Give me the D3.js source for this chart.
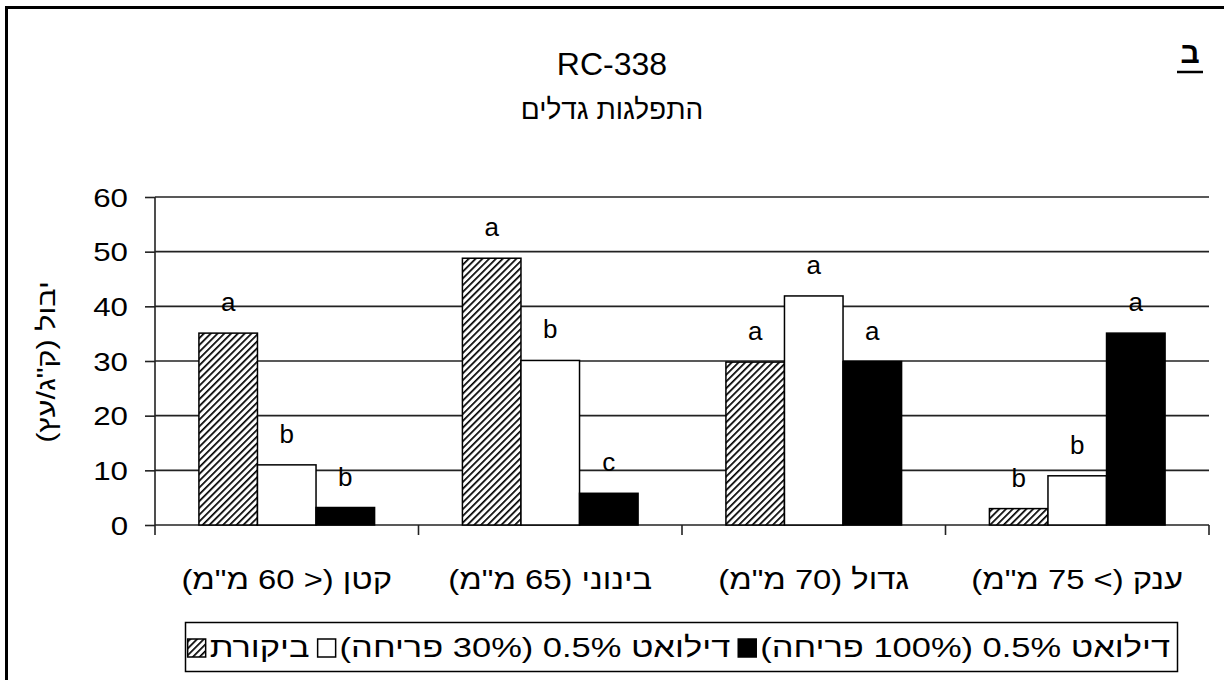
<!DOCTYPE html>
<html><head><meta charset="utf-8">
<script src="https://cdn.jsdelivr.net/npm/d3@7"></script>
<style>body{margin:0;background:#fff}svg{display:block;font-family:"Liberation Sans",Arial,sans-serif}</style>
</head><body><svg id="c" width="1224" height="680"></svg>
<script>
const categories = ['קטן (< 60 מ"מ)', 'בינוני (65 מ"מ)', 'גדול (70 מ"מ)', 'ענק (> 75 מ"מ)'];
const seriesNames = ['ביקורת', 'דילואט 0.5% (30% פריחה)', 'דילואט 0.5% (100% פריחה)'];
const controlValues = [35.1, 48.8, 29.8, 3.0];
const dil30Values = [11.0, 30.1, 41.9, 9.0];
const dil100Values = [3.2, 5.8, 29.9, 35.1];
const controlLetters = ['a', 'a', 'a', 'b'];
const dil30Letters = ['b', 'b', 'a', 'b'];
const dil100Letters = ['b', 'c', 'a', 'a'];
const yTicks = [0, 10, 20, 30, 40, 50, 60];
const title1 = 'RC-338';
const title2 = 'התפלגות גדלים';
const yTitle = 'יבול (ק"ג/עץ)';
const panelLetter = 'ב';

const svg = d3.select('#c');
function stretch(sel, sx) {
  sel.each(function() {
    const w = this.getComputedTextLength();
    d3.select(this).attr('textLength', w * sx).attr('lengthAdjust', 'spacingAndGlyphs');
  });
}
const defs = svg.append('defs');
const P = 4.8;
const pat = defs.append('pattern').attr('id','hatch').attr('patternUnits','userSpaceOnUse')
  .attr('width',P).attr('height',P).attr('patternTransform','rotate(45)');
pat.append('rect').attr('width',P).attr('height',P).attr('fill','#fff');
pat.append('line').attr('x1',0).attr('y1',0).attr('x2',0).attr('y2',P).attr('stroke','#000').attr('stroke-width',3.4);

// frame
svg.append('line').attr('x1',6.5).attr('x2',6.5).attr('y1',6).attr('y2',680).attr('stroke','#000').attr('stroke-width',3);
svg.append('line').attr('x1',5).attr('x2',1224).attr('y1',7.5).attr('y2',7.5).attr('stroke','#000').attr('stroke-width',3);

const L = 155, R = 1209, T = 197, B = 525;
const x0 = d3.scaleBand().domain(d3.range(categories.length)).range([L, R]).paddingInner(0).paddingOuter(0);
const bw = x0.bandwidth() / 4.5;
const y = d3.scaleLinear().domain([0, 60]).range([B, T]);

// gridlines
svg.append('g').selectAll('line').data(yTicks.filter(d=>d>0)).join('line')
  .attr('x1',L).attr('x2',R).attr('y1',d=>y(d)).attr('y2',d=>y(d))
  .attr('stroke','#222').attr('stroke-width',1.6);

// y axis
const ya = svg.append('g').attr('transform',`translate(${L},0)`)
  .call(d3.axisLeft(y).tickValues(yTicks).tickSize(10).tickPadding(17));
ya.select('.domain').attr('stroke','#222').attr('stroke-width',1.6).attr('d',`M0,${T}V${B}`);
ya.selectAll('.tick line').attr('stroke','#222').attr('stroke-width',1.6);
ya.selectAll('.tick text').attr('font-size',25).attr('font-family','"Liberation Sans",Arial,sans-serif').attr('fill','#000').attr('dy','0.36em').call(stretch, 1.25);

// x axis
const boundaries = d3.range(categories.length + 1).map(i => i < categories.length ? x0(i) : R);
svg.append('line').attr('x1',L).attr('x2',R).attr('y1',B).attr('y2',B).attr('stroke','#222').attr('stroke-width',1.6);
svg.append('g').selectAll('line').data(boundaries).join('line')
  .attr('x1',d=>d).attr('x2',d=>d).attr('y1',B).attr('y2',B+10).attr('stroke','#222').attr('stroke-width',1.6);
svg.append('g').selectAll('text').data(categories).join('text')
  .attr('x',(d,i)=>x0(i)+x0.bandwidth()/2).attr('y',589)
  .attr('text-anchor','middle').attr('direction','rtl')
  .attr('font-size',28).text(d=>d).call(stretch, 1.17);

// bars
const series = [
  {vals: controlValues, letters: controlLetters, fill: 'url(#hatch)'},
  {vals: dil30Values, letters: dil30Letters, fill: '#fff'},
  {vals: dil100Values, letters: dil100Letters, fill: '#000'}
];
series.forEach((s, si) => {
  const g = svg.append('g');
  g.selectAll('rect').data(s.vals).join('rect')
    .attr('x',(d,i)=>x0(i) + 0.75*bw + si*bw).attr('width',bw)
    .attr('y',d=>y(d)).attr('height',d=>B - y(d))
    .attr('fill',s.fill).attr('stroke','#000').attr('stroke-width',1.5);
  g.selectAll('text').data(s.vals).join('text')
    .attr('x',(d,i)=>x0(i) + 0.75*bw + si*bw + bw/2).attr('y',d=>y(d)-22)
    .attr('text-anchor','middle').attr('font-size',26).text((d,i)=>s.letters[i]);
});

// titles
svg.append('text').attr('x',612).attr('y',75).attr('text-anchor','middle').attr('font-size',32).text(title1);
svg.append('text').attr('x',612).attr('y',119).attr('text-anchor','middle').attr('font-size',28).attr('direction','rtl').text(title2);
svg.append('text').attr('x',1190).attr('y',63).attr('text-anchor','middle').attr('font-size',30).attr('font-weight','bold').text(panelLetter);
svg.append('line').attr('x1',1177).attr('x2',1203).attr('y1',72).attr('y2',72).attr('stroke','#000').attr('stroke-width',2.5);

// y title
svg.append('text').attr('transform','translate(55,362) rotate(-90)').attr('text-anchor','middle')
  .attr('direction','rtl').attr('font-size',25).text(yTitle).call(stretch, 1.22);

// legend
const lg = svg.append('g');
lg.append('rect').attr('x',185.5).attr('y',622.5).attr('width',992).attr('height',49).attr('fill','#fff').attr('stroke','#000').attr('stroke-width',1.5);
const legendFills = ['url(#hatch)', '#fff', '#000'];
const texts = seriesNames.map(n => lg.append('text').attr('y',657).attr('text-anchor','end')
  .attr('font-size',28).text(n));
texts.forEach(t => t.call(stretch, 1.23));
// lay out right to left: text right end, swatch left of text
let xr = 1170;
for (let i = seriesNames.length - 1; i >= 0; i--) {
  const w = +texts[i].attr('textLength');
  texts[i].attr('x', xr).attr('direction','ltr');
  const tl = xr - w;
  lg.append('rect').attr('x', tl - 22).attr('y',639).attr('width',18).attr('height',18)
    .attr('fill',legendFills[i]).attr('stroke','#000').attr('stroke-width',1.5);
  xr = tl - 30;
}
</script></body></html>
